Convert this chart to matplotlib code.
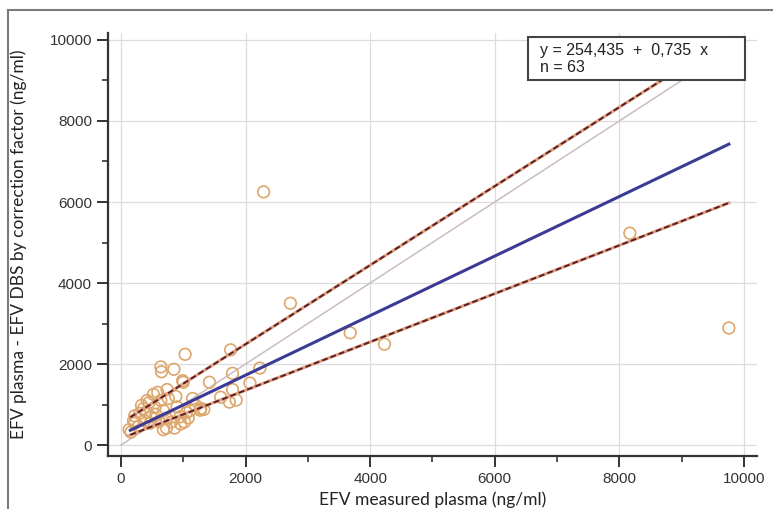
import matplotlib.pyplot as plt
from matplotlib.lines import Line2D
from matplotlib.patches import Rectangle

plt.rcParams['font.family'] = ['Liberation Sans', 'DejaVu Sans']

# measured plasma (x) vs plasma from DBS with correction factor (y), ng/ml
x_meas = [2290, 2720, 3680, 4230, 8170, 9760, 1030, 1760, 640, 850,
          650, 990, 1420, 1790, 2070, 2230, 1790, 1850, 1740, 1270,
          1110, 1050, 740, 520, 760, 450, 640, 545, 360, 220,
          200, 130, 220, 730, 860, 810, 1020, 730, 1080, 610,
          960, 300, 410, 480, 560, 680, 900, 1200, 380, 280,
          470, 1330, 1150, 590, 880, 330, 1280, 160, 680, 950,
          1600, 420, 1000]
y_dbs = [6250, 3500, 2770, 2490, 5230, 2890, 2240, 2350, 1930, 1870,
         1810, 1590, 1550, 1770, 1530, 1900, 1370, 1110, 1060, 860,
         850, 800, 1370, 1250, 1150, 1045, 1100, 930, 900, 720,
         600, 380, 540, 420, 420, 570, 570, 660, 670, 580,
         520, 780, 820, 700, 760, 850, 940, 980, 600, 460,
         540, 880, 1150, 1300, 1200, 980, 900, 320, 380, 700,
         1180, 1100, 1550]

# regression line and its limits (intercept, slope)
fit = (254.435, 0.735)
upper = (540, 0.975)
lower = (161, 0.596)
x_range = [150, 9760]

fig = plt.figure(figsize=(7.73, 5.09), dpi=100)
ax = fig.add_axes([0.1397, 0.104, 0.8393, 0.831])

ax.set_xlim(-209, 10208)
ax.set_ylim(-272, 10170)
ax.set_xticks(range(0, 10001, 2000))
ax.set_yticks(range(0, 10001, 2000))
ax.set_xticks(range(1000, 10000, 2000), minor=True)
ax.set_yticks(range(1000, 10000, 2000), minor=True)
ax.grid(True, which='major', color='#dcdcdc', lw=0.9)
ax.set_axisbelow(True)

for s in ['top', 'right']:
    ax.spines[s].set_visible(False)
for s in ['left', 'bottom']:
    ax.spines[s].set_linewidth(1.6)
    ax.spines[s].set_color('#333333')
ax.tick_params(which='major', direction='out', length=8, width=1.4, color='#333333',
               labelsize=11, labelcolor='#333333')
ax.tick_params(which='minor', direction='out', length=4, width=1.2, color='#333333')

# identity line
ax.plot([0, 10000], [0, 10000], color='#cbbcc0', lw=1.1, zorder=2)

ax.scatter(x_meas, y_dbs, s=70, facecolors='none', edgecolors='#dea66c',
           linewidths=1.2, zorder=3)

xs = x_range
ax.plot(xs, [fit[0] + fit[1] * v for v in xs], color='#3b3b95', lw=2.2, zorder=4)
for a, b in [upper, lower]:
    ax.plot(xs, [a + b * v for v in xs], color='#e0a080', lw=2.2, zorder=4)
    ax.plot(xs, [a + b * v for v in xs], color='#5a1e24', lw=1.4,
            dashes=(3, 1.6), zorder=5)

ax.set_xlabel('EFV measured plasma (ng/ml)', family='Lato', fontsize=12.5,
              color='#222222', labelpad=4)
ax.set_ylabel('EFV plasma - EFV DBS by correction factor (ng/ml)', family='Lato',
              fontsize=12.5, color='#222222', labelpad=16)

# equation box
fig.patches.append(Rectangle((528 / 773, 1 - 80 / 509), 217 / 773, 43 / 509,
                             transform=fig.transFigure, facecolor='white',
                             edgecolor='#444444', lw=1.5, zorder=10))
fig.text(540 / 773, 1 - 50 / 509, 'y = 254,435  +  0,735  x',
         fontsize=11.5, va='center', color='#222222', zorder=11)
fig.text(540 / 773, 1 - 68 / 509, 'n = 63',
         fontsize=11.5, va='center', color='#222222', zorder=11)

# outer frame (left and top edges visible)
fig.lines.append(Line2D([8 / 773, 8 / 773], [0, 1 - 10 / 509], transform=fig.transFigure,
                        color='#7a7a7a', lw=1.5))
fig.lines.append(Line2D([8 / 773, 1], [1 - 10 / 509, 1 - 10 / 509], transform=fig.transFigure,
                        color='#7a7a7a', lw=1.5))

fig.savefig('out.png', dpi=100)
